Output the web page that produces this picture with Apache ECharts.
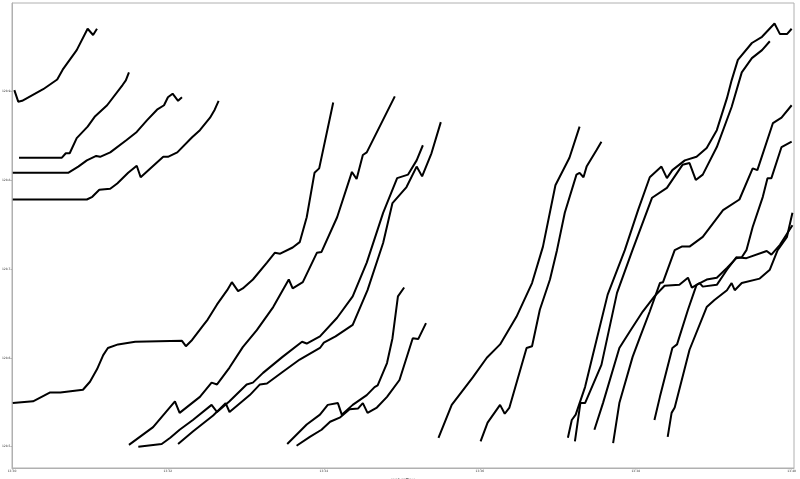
<!DOCTYPE html>
<html>
<head>
<meta charset="utf-8">
<script src="https://cdn.jsdelivr.net/npm/echarts@6/dist/echarts.min.js"></script>
<style>html,body{margin:0;padding:0;background:#fff}#c{width:800px;height:479px}</style>
</head>
<body>
<div id="c"></div>
<script>
// x values: minutes after 13:30; y values: price
const xTickValues = [0, 2, 4, 6, 8, 10];
const xTickLabels = ["13:30", "13:32", "13:34", "13:36", "13:38", "13:40"];
const yTickValues = [128.5, 128.6, 128.7, 128.8, 128.9];
const xAxisName = "captureTime";

const lineA = [[0.03,128.901],[0.08,128.888],[0.13,128.889],[0.40,128.902],[0.58,128.913],[0.65,128.924],[0.83,128.946],[0.97,128.970],[1.04,128.963],[1.09,128.970]];
const lineB = [[0.09,128.825],[0.64,128.825],[0.69,128.830],[0.74,128.830],[0.83,128.847],[0.97,128.860],[1.06,128.871],[1.22,128.884],[1.42,128.907],[1.46,128.912],[1.50,128.921]];
const lineC = [[0.01,128.808],[0.72,128.808],[0.85,128.815],[0.96,128.822],[1.08,128.827],[1.13,128.826],[1.26,128.831],[1.47,128.845],[1.60,128.854],[1.73,128.867],[1.86,128.879],[1.95,128.884],[2.00,128.893],[2.06,128.897],[2.13,128.889],[2.18,128.893]];
const lineD = [[0.01,128.778],[0.96,128.778],[1.03,128.781],[1.12,128.789],[1.26,128.790],[1.35,128.796],[1.49,128.808],[1.60,128.816],[1.65,128.803],[1.94,128.826],[2.00,128.826],[2.12,128.831],[2.31,128.848],[2.41,128.856],[2.54,128.870],[2.60,128.879],[2.65,128.889]];
const lineE = [[0.01,128.549],[0.27,128.551],[0.49,128.561],[0.62,128.561],[0.91,128.564],[1.00,128.573],[1.09,128.587],[1.17,128.603],[1.23,128.611],[1.36,128.615],[1.58,128.618],[2.18,128.619],[2.23,128.613],[2.31,128.620],[2.44,128.635],[2.51,128.643],[2.63,128.660],[2.76,128.676],[2.82,128.685],[2.90,128.675],[2.96,128.678],[3.09,128.688],[3.27,128.707],[3.37,128.718],[3.44,128.717],[3.60,128.724],[3.69,128.730],[3.78,128.758],[3.88,128.808],[3.94,128.813],[4.12,128.887]];
const lineF = [[1.50,128.502],[1.81,128.522],[2.09,128.551],[2.15,128.538],[2.41,128.556],[2.56,128.572],[2.63,128.570],[2.79,128.589],[2.96,128.612],[3.14,128.631],[3.35,128.657],[3.55,128.688],[3.60,128.678],[3.73,128.685],[3.91,128.718],[3.97,128.719],[4.17,128.758],[4.36,128.809],[4.42,128.801],[4.50,128.828],[4.55,128.831],[4.91,128.894]];
const lineG = [[1.62,128.500],[1.92,128.503],[2.03,128.510],[2.15,128.519],[2.32,128.530],[2.56,128.547],[2.63,128.539],[2.79,128.551],[3.01,128.570],[3.09,128.572],[3.22,128.583],[3.47,128.601],[3.72,128.618],[3.78,128.616],[3.95,128.624],[4.17,128.645],[4.37,128.669],[4.55,128.707],[4.76,128.763],[4.94,128.802],[5.08,128.806],[5.19,128.822],[5.27,128.839]];
const lineH = [[2.13,128.503],[2.32,128.517],[2.58,128.535],[2.74,128.549],[2.79,128.539],[3.05,128.558],[3.18,128.570],[3.27,128.571],[3.47,128.584],[3.69,128.598],[3.95,128.611],[4.00,128.617],[4.15,128.624],[4.37,128.637],[4.56,128.676],[4.76,128.729],[4.88,128.774],[5.06,128.792],[5.19,128.815],[5.26,128.804],[5.38,128.830],[5.50,128.865]];
const lineI = [[3.53,128.503],[3.78,128.525],[3.95,128.536],[4.05,128.547],[4.18,128.549],[4.23,128.536],[4.37,128.547],[4.55,128.558],[4.65,128.567],[4.69,128.569],[4.81,128.594],[4.88,128.622],[4.95,128.669],[5.03,128.679]];
const lineJ = [[3.65,128.501],[3.82,128.511],[3.97,128.519],[4.08,128.528],[4.21,128.533],[4.33,128.542],[4.44,128.543],[4.50,128.549],[4.56,128.538],[4.68,128.544],[4.81,128.556],[4.97,128.575],[5.14,128.622],[5.21,128.621],[5.31,128.639]];
const lineK = [[5.47,128.510],[5.64,128.547],[5.91,128.578],[6.09,128.600],[6.26,128.615],[6.47,128.646],[6.67,128.684],[6.81,128.725],[6.97,128.794],[7.15,128.825],[7.28,128.860]];
const lineL = [[6.01,128.506],[6.10,128.527],[6.26,128.547],[6.32,128.537],[6.38,128.544],[6.60,128.611],[6.67,128.613],[6.77,128.654],[6.90,128.688],[6.99,128.721],[7.09,128.763],[7.24,128.806],[7.28,128.808],[7.33,128.803],[7.37,128.815],[7.50,128.834],[7.56,128.843]];
const lineM = [[7.13,128.510],[7.18,128.530],[7.23,128.536],[7.35,128.567],[7.45,128.603],[7.64,128.671],[7.86,128.721],[8.03,128.766],[8.18,128.803],[8.33,128.815],[8.40,128.802],[8.47,128.811],[8.63,128.822],[8.78,128.826],[8.91,128.836],[9.04,128.856],[9.17,128.892],[9.23,128.912],[9.31,128.935],[9.49,128.954],[9.62,128.961],[9.78,128.976],[9.85,128.964],[9.94,128.964],[10.00,128.970]];
const lineN = [[7.22,128.506],[7.29,128.549],[7.35,128.549],[7.56,128.592],[7.76,128.673],[7.95,128.719],[8.21,128.780],[8.40,128.791],[8.60,128.817],[8.69,128.819],[8.77,128.800],[8.86,128.806],[9.04,128.837],[9.23,128.882],[9.36,128.921],[9.49,128.937],[9.62,128.946],[9.72,128.956]];
const lineO = [[7.47,128.519],[7.58,128.549],[7.79,128.611],[7.92,128.629],[8.09,128.652],[8.24,128.669],[8.37,128.681],[8.56,128.682],[8.67,128.690],[8.72,128.679],[8.82,128.684],[8.86,128.680],[9.04,128.682],[9.17,128.699],[9.29,128.713],[9.42,128.712],[9.68,128.720],[9.74,128.716],[9.85,128.727],[10.01,128.749]];
const lineP = [[7.71,128.504],[7.79,128.549],[7.96,128.601],[8.05,128.622],[8.18,128.652],[8.31,128.684],[8.35,128.685],[8.50,128.721],[8.59,128.725],[8.69,128.725],[8.86,128.736],[9.12,128.766],[9.33,128.778],[9.50,128.813],[9.56,128.811],[9.76,128.864],[9.87,128.870],[10.00,128.884]];
const lineQ = [[8.24,128.530],[8.31,128.556],[8.47,128.611],[8.53,128.615],[8.67,128.654],[8.78,128.682],[8.91,128.688],[9.04,128.690],[9.17,128.701],[9.29,128.712],[9.36,128.713],[9.42,128.721],[9.50,128.747],[9.63,128.781],[9.69,128.802],[9.74,128.802],[9.87,128.837],[10.00,128.843]];
const lineR = [[8.41,128.511],[8.46,128.538],[8.50,128.544],[8.69,128.609],[8.91,128.657],[9.01,128.665],[9.17,128.676],[9.23,128.684],[9.27,128.676],[9.36,128.684],[9.59,128.689],[9.72,128.699],[9.82,128.721],[9.94,128.736],[10.01,128.763]];

const allLines = [lineA,lineB,lineC,lineD,lineE,lineF,lineG,lineH,lineI,lineJ,lineK,lineL,lineM,lineN,lineO,lineP,lineQ,lineR];

const chart = echarts.init(document.getElementById('c'), null, {renderer: 'canvas'});
const axisGray = '#b0b0b0';
chart.setOption({
  animation: false,
  backgroundColor: '#fff',
  grid: {left: 12, right: 6, top: 3, bottom: 11, show: true, borderColor: axisGray, borderWidth: 1,
    containLabel: false, outerBoundsMode: 'none'},
  xAxis: {
    type: 'value', min: 0, max: 10.03,
    name: xAxisName, nameLocation: 'middle', nameGap: 5,
    nameTextStyle: {fontSize: 4, color: '#333', fontFamily: 'DejaVu Sans'},
    axisLine: {show: true, lineStyle: {color: axisGray, width: 1}},
    axisTick: {show: true, length: 1.5, lineStyle: {color: axisGray}, customValues: xTickValues},
    splitLine: {show: false},
    axisLabel: {
      fontSize: 3, color: '#333', margin: 2, fontFamily: 'DejaVu Sans',
      customValues: xTickValues,
      formatter: function (v) { const i = xTickValues.indexOf(Math.round(v)); return i >= 0 ? xTickLabels[i] : ''; }
    }
  },
  yAxis: {
    type: 'value', min: 128.476, max: 128.999,
    axisLine: {show: true, lineStyle: {color: axisGray, width: 1}},
    axisTick: {show: true, length: 1.5, lineStyle: {color: axisGray}, customValues: yTickValues},
    splitLine: {show: false},
    axisLabel: {
      fontSize: 3, color: '#333', margin: 1.5, fontFamily: 'DejaVu Sans',
      customValues: yTickValues,
      formatter: function (v) { return v.toFixed(1); }
    }
  },
  series: allLines.map(function (d) {
    return {type: 'line', data: d, symbol: 'none', silent: true,
      lineStyle: {color: '#000', width: 2}, clip: true};
  })
});
</script>
</body>
</html>
